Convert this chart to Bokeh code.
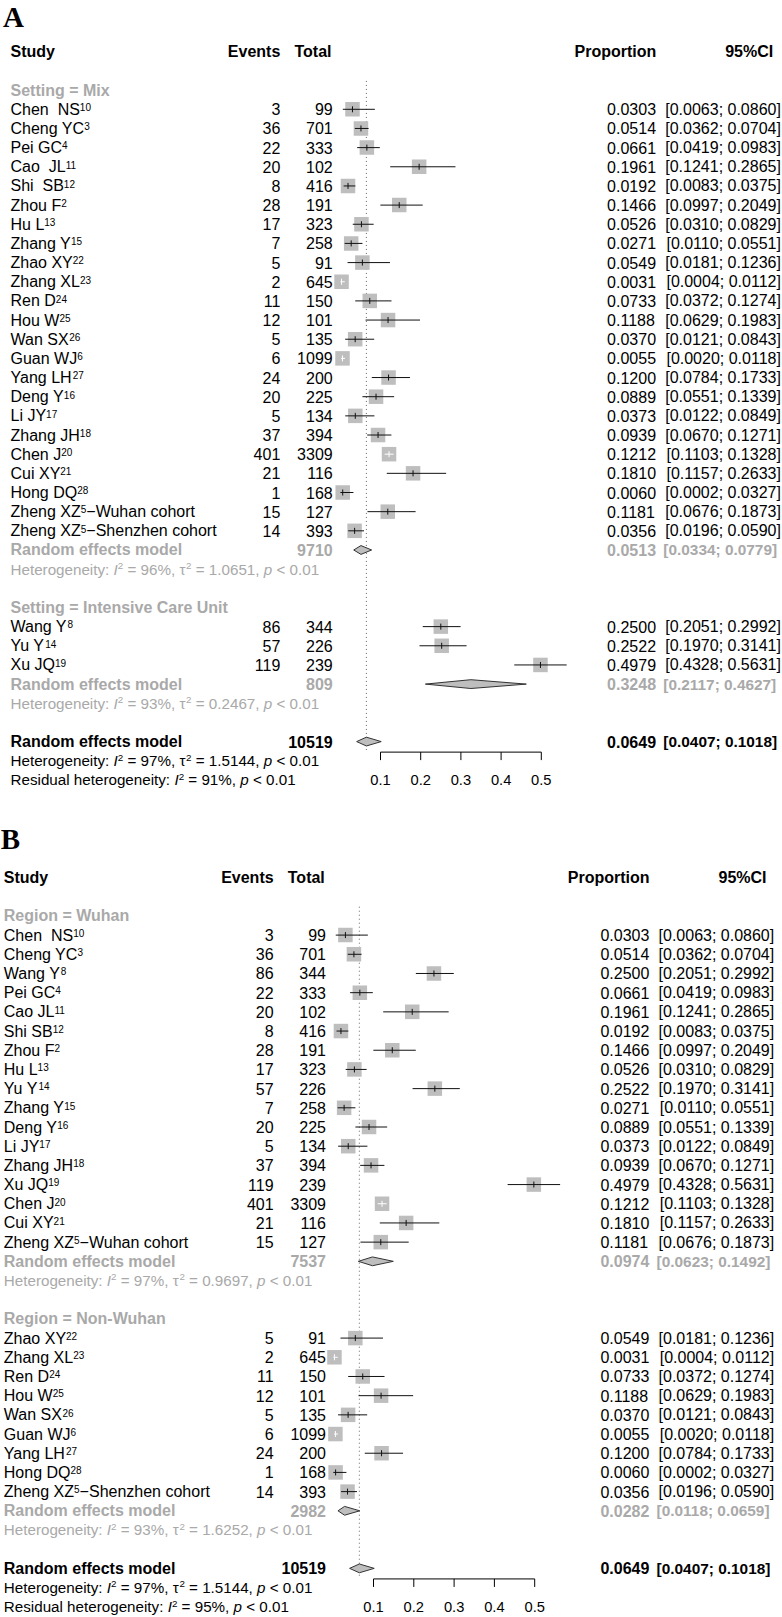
from bokeh.plotting import figure
from bokeh.layouts import column
from bokeh.models import Range1d, ColumnDataSource
from bokeh.embed import file_html
from bokeh.resources import INLINE
from bokeh.core.properties import value

# ---------------- data ----------------
TICKS = [0.1, 0.2, 0.3, 0.4, 0.5]
TICK_LABELS = ["0.1", "0.2", "0.3", "0.4", "0.5"]

# Panel A, subgroup "Setting = Mix"
MIX_STUDY = ["Chen \u00a0NS¹⁰", "Cheng YC³", "Pei GC⁴", "Cao \u00a0JL¹¹", "Shi \u00a0SB¹²", "Zhou F²",
             "Hu L¹³", "Zhang Y¹⁵", "Zhao XY²²", "Zhang XL²³", "Ren D²⁴", "Hou W²⁵", "Wan SX²⁶",
             "Guan WJ⁶", "Yang LH²⁷", "Deng Y¹⁶", "Li JY¹⁷", "Zhang JH¹⁸", "Chen J²⁰", "Cui XY²¹",
             "Hong DQ²⁸", "Zheng XZ⁵−Wuhan cohort", "Zheng XZ⁵−Shenzhen cohort"]
MIX_EVENTS = [3, 36, 22, 20, 8, 28, 17, 7, 5, 2, 11, 12, 5, 6, 24, 20, 5, 37, 401, 21, 1, 15, 14]
MIX_TOTAL = [99, 701, 333, 102, 416, 191, 323, 258, 91, 645, 150, 101, 135, 1099, 200, 225, 134,
             394, 3309, 116, 168, 127, 393]
MIX_PROP = [0.0303, 0.0514, 0.0661, 0.1961, 0.0192, 0.1466, 0.0526, 0.0271, 0.0549, 0.0031, 0.0733,
            0.1188, 0.0370, 0.0055, 0.1200, 0.0889, 0.0373, 0.0939, 0.1212, 0.1810, 0.0060, 0.1181, 0.0356]
MIX_LOWER = [0.0063, 0.0362, 0.0419, 0.1241, 0.0083, 0.0997, 0.0310, 0.0110, 0.0181, 0.0004, 0.0372,
             0.0629, 0.0121, 0.0020, 0.0784, 0.0551, 0.0122, 0.0670, 0.1103, 0.1157, 0.0002, 0.0676, 0.0196]
MIX_UPPER = [0.0860, 0.0704, 0.0983, 0.2865, 0.0375, 0.2049, 0.0829, 0.0551, 0.1236, 0.0112, 0.1274,
             0.1983, 0.0843, 0.0118, 0.1733, 0.1339, 0.0849, 0.1271, 0.1328, 0.2633, 0.0327, 0.1873, 0.0590]
MIX_RE = [9710, 0.0513, 0.0334, 0.0779]
MIX_HET = "Heterogeneity: I² = 96%, τ² = 1.0651, p < 0.01"

# Panel A, subgroup "Setting = Intensive Care Unit"
ICU_STUDY = ["Wang Y⁸", "Yu Y¹⁴", "Xu JQ¹⁹"]
ICU_EVENTS = [86, 57, 119]
ICU_TOTAL = [344, 226, 239]
ICU_PROP = [0.2500, 0.2522, 0.4979]
ICU_LOWER = [0.2051, 0.1970, 0.4328]
ICU_UPPER = [0.2992, 0.3141, 0.5631]
ICU_RE = [809, 0.3248, 0.2117, 0.4627]
ICU_HET = "Heterogeneity: I² = 93%, τ² = 0.2467, p < 0.01"

# Panel B, subgroup "Region = Wuhan"
WUH_STUDY = ["Chen \u00a0NS¹⁰", "Cheng YC³", "Wang Y⁸", "Pei GC⁴", "Cao JL¹¹", "Shi SB¹²", "Zhou F²",
             "Hu L¹³", "Yu Y¹⁴", "Zhang Y¹⁵", "Deng Y¹⁶", "Li JY¹⁷", "Zhang JH¹⁸", "Xu JQ¹⁹",
             "Chen J²⁰", "Cui XY²¹", "Zheng XZ⁵−Wuhan cohort"]
WUH_EVENTS = [3, 36, 86, 22, 20, 8, 28, 17, 57, 7, 20, 5, 37, 119, 401, 21, 15]
WUH_TOTAL = [99, 701, 344, 333, 102, 416, 191, 323, 226, 258, 225, 134, 394, 239, 3309, 116, 127]
WUH_PROP = [0.0303, 0.0514, 0.2500, 0.0661, 0.1961, 0.0192, 0.1466, 0.0526, 0.2522, 0.0271, 0.0889,
            0.0373, 0.0939, 0.4979, 0.1212, 0.1810, 0.1181]
WUH_LOWER = [0.0063, 0.0362, 0.2051, 0.0419, 0.1241, 0.0083, 0.0997, 0.0310, 0.1970, 0.0110, 0.0551,
             0.0122, 0.0670, 0.4328, 0.1103, 0.1157, 0.0676]
WUH_UPPER = [0.0860, 0.0704, 0.2992, 0.0983, 0.2865, 0.0375, 0.2049, 0.0829, 0.3141, 0.0551, 0.1339,
             0.0849, 0.1271, 0.5631, 0.1328, 0.2633, 0.1873]
WUH_RE = [7537, 0.0974, 0.0623, 0.1492]
WUH_HET = "Heterogeneity: I² = 97%, τ² = 0.9697, p < 0.01"

# Panel B, subgroup "Region = Non-Wuhan"
NWU_STUDY = ["Zhao XY²²", "Zhang XL²³", "Ren D²⁴", "Hou W²⁵", "Wan SX²⁶", "Guan WJ⁶", "Yang LH²⁷",
             "Hong DQ²⁸", "Zheng XZ⁵−Shenzhen cohort"]
NWU_EVENTS = [5, 2, 11, 12, 5, 6, 24, 1, 14]
NWU_TOTAL = [91, 645, 150, 101, 135, 1099, 200, 168, 393]
NWU_PROP = [0.0549, 0.0031, 0.0733, 0.1188, 0.0370, 0.0055, 0.1200, 0.0060, 0.0356]
NWU_LOWER = [0.0181, 0.0004, 0.0372, 0.0629, 0.0121, 0.0020, 0.0784, 0.0002, 0.0196]
NWU_UPPER = [0.1236, 0.0112, 0.1274, 0.1983, 0.0843, 0.0118, 0.1733, 0.0327, 0.0590]
NWU_RE = [2982, 0.0282, 0.0118, 0.0659]
NWU_HET = "Heterogeneity: I² = 93%, τ² = 1.6252, p < 0.01"

# Overall
OVERALL_RE = [10519, 0.0649, 0.0407, 0.1018]
OVERALL_HET = "Heterogeneity: I² = 97%, τ² = 1.5144, p < 0.01"
RESID_A = "Residual heterogeneity: I² = 91%, p < 0.01"
RESID_B = "Residual heterogeneity: I² = 95%, p < 0.01"

HEADERS = ["Study", "Events", "Total", "Proportion", "95%CI"]

# ---------------- style ----------------
FONT = "Liberation Sans"
FS = 16.0          # main text size (px)
FS_BOLD_CI = 15.4  # bold summary CI text
FS_HET = 15.2      # heterogeneity lines
FS_TICK = 14.7     # tick labels
FS_SUP = 10.0      # superscripts in study names
FS_SUP_HET = 9.8
GREY = "#a9a9a9"
SQ_COL = "#bebebe"
SQ_SIZE = 14.5
FIG_W = 782

SUP = "\u2070\u00b9\u00b2\u00b3\u2074\u2075\u2076\u2077\u2078\u2079"

# advance widths (1/1000 em) of Liberation Sans regular / bold (Arial metrics)
_W = {" ": 278, "\u00a0": 278, ":": 278, ",": 278, ".": 278, "=": 584, "%": 889, "<": 584,
      "\u2212": 584, "\u03c4": 437, "-": 333}
for _c, _w in zip("ABCDEFGHIJKLMNOPQRSTUVWXYZ",
                  [667, 667, 722, 722, 667, 611, 778, 722, 278, 500, 667, 556, 833, 722, 778, 667,
                   778, 722, 667, 611, 722, 667, 944, 667, 667, 611]):
    _W[_c] = _w
for _c, _w in zip("abcdefghijklmnopqrstuvwxyz",
                  [556, 556, 500, 556, 556, 278, 556, 556, 222, 222, 500, 222, 833, 556, 556, 556,
                   556, 333, 500, 278, 556, 500, 722, 500, 500, 500]):
    _W[_c] = _w
for _c in "0123456789":
    _W[_c] = 556

_WB = {" ": 278, "%": 889, ".": 278}
for _c, _w in zip("ABCDEFGHIJKLMNOPQRSTUVWXYZ",
                  [722, 722, 722, 722, 667, 611, 778, 722, 278, 556, 722, 611, 833, 722, 778, 667,
                   778, 722, 667, 611, 722, 667, 944, 667, 667, 611]):
    _WB[_c] = _w
for _c, _w in zip("abcdefghijklmnopqrstuvwxyz",
                  [556, 611, 556, 611, 556, 333, 611, 611, 278, 278, 556, 278, 889, 611, 611, 611,
                   611, 389, 556, 333, 611, 556, 778, 556, 556, 500]):
    _WB[_c] = _w
for _c in "0123456789":
    _WB[_c] = 556


def tw(s, size, bold=False):
    tab = _WB if bold else _W
    return sum(tab.get(c, 556) for c in s) * size / 1000.0


def split_runs(s, het=False):
    out = []
    for i, ch in enumerate(s):
        if ch in SUP:
            st, c = "sup", str(SUP.index(ch))
        elif het and ch == "I" and i + 1 < len(s) and s[i + 1] in SUP:
            st, c = "ital", ch
        elif het and ch == "p" and s[i + 1:i + 3] == " <":
            st, c = "ital", ch
        else:
            st, c = "norm", ch
        if out and out[-1][0] == st:
            out[-1][1] += c
        else:
            out.append([st, c])
    return out


def build_panel(letter, groups, resid, X0, SX, row0, dy, top_px, bot_px, dx, letter_xy):
    def xd(px):
        return (px - X0) / SX

    p = figure(width=FIG_W, height=int(round(bot_px - top_px)),
               x_range=Range1d(xd(0), xd(FIG_W)),
               y_range=Range1d((bot_px - row0) / dy, (top_px - row0) / dy),
               output_backend="svg", toolbar_location=None, min_border=0,
               x_axis_location=None, y_axis_location=None, outline_line_color=None)
    p.xgrid.visible = False
    p.ygrid.visible = False
    p.background_fill_color = "white"
    p.border_fill_color = "white"

    name_x = 10.0 + dx
    evt_r = 279.8 + dx
    tot_r = 332.2 + dx
    prop_l = 606.6 + dx
    prop_hdr_r = 655.8 + dx
    ci_r = 780.4 + dx
    ci_bold_l = 662.8 + dx
    ci_hdr_r = 772.7 + dx

    store = {}

    def txt(px, row, t, align="left", color="black", style="normal", size=FS, font=FONT):
        key = (align, color, style, f"{size}px", font)
        d = store.setdefault(key, {"x": [], "y": [], "text": []})
        d["x"].append(xd(px))
        d["y"].append(row)
        d["text"].append(t)

    def bold_right(px_right, row, t, color="black", size=FS):
        # right-aligned bold text, placed by its own advance width
        txt(px_right - tw(t, size, bold=True), row, t, color=color, style="bold", size=size)

    def rich(px, row, s, color="black", size=FS, sup_size=FS_SUP, sup_up=2.2, het=False):
        cur = px
        for st, t in split_runs(s, het):
            sz = sup_size if st == "sup" else size
            lead = len(t) - len(t.lstrip(" "))
            body = t.strip(" ")
            if body:
                yy = row - (sup_up / dy if st == "sup" else 0.0)
                txt(cur + tw(t[:lead], sz), yy, body, color=color,
                    style="italic" if st == "ital" else "normal", size=sz)
            cur += tw(t, sz)

    sq = {"x": [], "y": []}
    ci_b = {"x0": [], "x1": [], "y": []}
    ci_w = {"x0": [], "x1": [], "y": []}
    tk_b = {"x": [], "y0": [], "y1": []}
    tk_w = {"x": [], "y0": [], "y1": []}
    dia = {"xs": [], "ys": []}
    half_sq = SQ_SIZE / 2.0 / SX
    tick_h = 3.0 / dy
    dia_h = 4.4 / dy

    # header
    txt(name_x, -3, HEADERS[0], style="bold")
    bold_right(evt_r, -3, HEADERS[1])
    bold_right(tot_r, -3, HEADERS[2])
    bold_right(prop_hdr_r, -3, HEADERS[3])
    bold_right(ci_hdr_r, -3, HEADERS[4])

    def diamond(row, est, lo, hi):
        dia["xs"].append([lo, est, hi, est])
        dia["ys"].append([row, row - dia_h, row, row + dia_h])

    def summary(row, re, color):
        txt(name_x, row, "Random effects model", color=color, style="bold")
        bold_right(tot_r, row, str(re[0]), color=color)
        txt(prop_l, row, f"{re[1]:.4f}", color=color, style="bold")
        txt(ci_bold_l, row, f"[{re[2]:.4f}; {re[3]:.4f}]", color=color, style="bold",
            size=FS_BOLD_CI)
        diamond(row, re[1], re[2], re[3])

    row = -1
    for (title, names, ev, tot, pr, lo, hi, re, het) in groups:
        txt(name_x, row, title, color=GREY, style="bold")
        row += 1
        for i in range(len(names)):
            rich(name_x, row, names[i])
            txt(evt_r, row, str(ev[i]), align="right")
            txt(tot_r, row, str(tot[i]), align="right")
            txt(prop_l, row, f"{pr[i]:.4f}")
            txt(ci_r, row, f"[{lo[i]:.4f}; {hi[i]:.4f}]", align="right")
            sq["x"].append(pr[i])
            sq["y"].append(row)
            inside = (pr[i] - lo[i]) < half_sq and (hi[i] - pr[i]) < half_sq
            c = ci_w if inside else ci_b
            c["x0"].append(lo[i]); c["x1"].append(hi[i]); c["y"].append(row)
            t = tk_w if inside else tk_b
            t["x"].append(pr[i]); t["y0"].append(row - tick_h); t["y1"].append(row + tick_h)
            row += 1
        summary(row, re, GREY)
        row += 1
        rich(name_x, row, het, color=GREY, size=FS_HET, sup_size=FS_SUP_HET, sup_up=3.2, het=True)
        row += 2

    # overall
    ov_row = row
    summary(row, OVERALL_RE, "black")
    row += 1
    rich(name_x, row, OVERALL_HET, size=FS_HET, sup_size=FS_SUP_HET, sup_up=3.2, het=True)
    row += 1
    rich(name_x, row, resid, size=FS_HET, sup_size=FS_SUP_HET, sup_up=3.2, het=True)
    label_row = row
    axis_row = ov_row + 0.55

    # reference (dotted) line at overall estimate
    p.segment(x0=[OVERALL_RE[1]], x1=[OVERALL_RE[1]], y0=[-1.48], y1=[axis_row - 0.05],
              line_color="#666666", line_width=1, line_dash="1 3")

    # squares, CI lines, diamonds
    p.scatter(x="x", y="y", source=ColumnDataSource(sq), marker="square", size=SQ_SIZE,
              fill_color=SQ_COL, line_color=None)
    p.segment(x0="x0", x1="x1", y0="y", y1="y", source=ColumnDataSource(ci_b),
              line_color="#111111", line_width=1)
    p.segment(x0="x", x1="x", y0="y0", y1="y1", source=ColumnDataSource(tk_b),
              line_color="#111111", line_width=1)
    p.segment(x0="x0", x1="x1", y0="y", y1="y", source=ColumnDataSource(ci_w),
              line_color="white", line_width=1)
    p.segment(x0="x", x1="x", y0="y0", y1="y1", source=ColumnDataSource(tk_w),
              line_color="white", line_width=1)
    p.patches(xs="xs", ys="ys", source=ColumnDataSource(dia), fill_color=SQ_COL,
              line_color="#333333", line_width=1)

    # x axis
    p.segment(x0=[min(TICKS)], x1=[max(TICKS)], y0=[axis_row], y1=[axis_row],
              line_color="black", line_width=1)
    p.segment(x0=TICKS, x1=TICKS, y0=[axis_row] * len(TICKS),
              y1=[axis_row + 8.0 / dy] * len(TICKS), line_color="black", line_width=1)
    for tv, tl in zip(TICKS, TICK_LABELS):
        txt(X0 + tv * SX, label_row, tl, align="center", size=FS_TICK)

    # panel letter
    txt(letter_xy[0], (letter_xy[1] - row0) / dy, letter, style="bold", size=29,
        font="Liberation Serif")

    for (align, color, style, size, font), d in store.items():
        p.text(x="x", y="y", text="text", source=ColumnDataSource(d),
               text_align=align, text_baseline="middle", text_color=color,
               text_font_style=style, text_font_size=value(size), text_font=value(font))
    return p


groups_a = [
    ("Setting = Mix", MIX_STUDY, MIX_EVENTS, MIX_TOTAL, MIX_PROP, MIX_LOWER, MIX_UPPER, MIX_RE, MIX_HET),
    ("Setting = Intensive Care Unit", ICU_STUDY, ICU_EVENTS, ICU_TOTAL, ICU_PROP, ICU_LOWER, ICU_UPPER,
     ICU_RE, ICU_HET),
]
groups_b = [
    ("Region = Wuhan", WUH_STUDY, WUH_EVENTS, WUH_TOTAL, WUH_PROP, WUH_LOWER, WUH_UPPER, WUH_RE, WUH_HET),
    ("Region = Non-Wuhan", NWU_STUDY, NWU_EVENTS, NWU_TOTAL, NWU_PROP, NWU_LOWER, NWU_UPPER, NWU_RE, NWU_HET),
]

pA = build_panel("A", groups_a, RESID_A, X0=339.8, SX=402.0, row0=108.8, dy=19.16,
                 top_px=0, bot_px=808, dx=0.0, letter_xy=(2.5, 16.5))
pB = build_panel("B", groups_b, RESID_B, X0=332.7, SX=403.0, row0=934.6, dy=19.19,
                 top_px=808, bot_px=1617, dx=-6.7, letter_xy=(0.3, 838.0))

layout = column(pA, pB, spacing=0)
open("out.html", "w").write(file_html(layout, INLINE))
